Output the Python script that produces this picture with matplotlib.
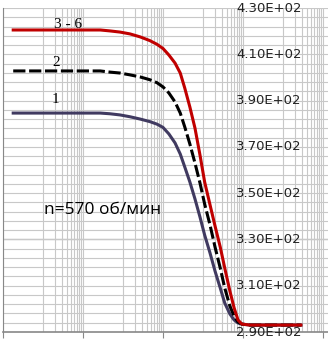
import numpy as np
import matplotlib
matplotlib.use("Agg")
import matplotlib.pyplot as plt
from matplotlib.ticker import FixedLocator, NullFormatter
import matplotlib.transforms as mtransforms

# data (x on a log axis)
x = [1.8, 30, 150, 270, 470, 840, 1500, 2700, 4700, 7100, 1e4, 1.4e4,
     2e4, 2.7e4, 3.5e4, 4.7e4, 6.3e4, 8.4e4, 1.1e5, 1.5e5, 2e5, 2.7e5,
     3.5e5, 4.7e5, 6e5, 7.5e5, 9.4e5, 1.5e6, 3e6, 2.8e7]
y_36 = [420.5, 420.5, 420.5, 420.5, 420.1, 419.6, 418.8, 417.5, 415.9,
        414.3, 412.5, 409.7, 406.2, 401.9, 395.4, 387.2, 378.1, 366.5,
        354.8, 344.9, 335.8, 326.7, 317.6, 307.7, 300.4, 295.2, 293.4,
        293.0, 293.0, 293.0]
y_2 = [402.8, 402.8, 402.8, 402.8, 402.3, 401.9, 401.1, 400.2, 399.0,
       397.7, 395.9, 393.3, 389.4, 384.6, 378.6, 371.2, 363.0, 354.4,
       345.3, 336.2, 326.7, 317.6, 309.0, 301.2, 296.9, 294.3, 293.4,
       293.0, 293.0, 293.0]
y_1 = [384.6, 384.6, 384.6, 384.6, 384.3, 383.8, 383.0, 382.0, 380.9,
       379.8, 378.4, 375.6, 371.7, 366.9, 361.3, 354.8, 347.5, 339.7,
       331.9, 324.1, 316.3, 309.0, 302.5, 297.8, 295.2, 293.9, 293.4,
       293.0, 293.0, 293.0]
y_ticks = [290, 310, 330, 350, 370, 390, 410, 430]
y_labels = ["2.90E+02", "3.10E+02", "3.30E+02", "3.50E+02",
            "3.70E+02", "3.90E+02", "4.10E+02", "4.30E+02"]

fig = plt.figure(figsize=(3.28, 3.39), dpi=100)
ax = fig.add_axes([3 / 328, 7 / 339, 325 / 328, 324 / 339])
ax.set_xscale("log")
ax.set_xlim(1, 10 ** 8.125)
ax.set_ylim(290, 430)

# gridlines like the Excel log (base 100) axis
major = [10.0 ** k for k in (0, 2, 4, 6, 8)]
minor = [j * 10.0 ** k for k in (1, 3, 5, 7) for j in range(1, 10)]
ax.xaxis.set_major_locator(FixedLocator(major))
ax.xaxis.set_minor_locator(FixedLocator(minor))
ax.xaxis.set_major_formatter(NullFormatter())
ax.xaxis.set_minor_formatter(NullFormatter())
ax.yaxis.set_major_locator(FixedLocator(np.arange(290, 431, 4)))
ax.yaxis.set_major_formatter(NullFormatter())
ax.tick_params(axis="y", length=0)
ax.tick_params(axis="x", which="major", length=4, color="#888888", direction="out")
ax.tick_params(axis="x", which="minor", length=0)
ax.grid(True, which="both", axis="x", color="#c8c8c8", lw=0.8)
ax.grid(True, which="major", axis="y", color="#c8c8c8", lw=0.8)
ax.axhline(330, color="#9a9a9a", lw=0.9, zorder=1)

for side in ("top", "right"):
    ax.spines[side].set_visible(False)
ax.spines["left"].set_color("#888888")
ax.spines["bottom"].set_color("#888888")
ax.spines["bottom"].set_linewidth(1.2)

ax.plot(x, y_1, color="#403a60", lw=2.2, zorder=3)
ax.plot(x, y_2, color="black", lw=2.2, ls=(0, (4, 1.2)), zorder=4)
ax.plot(x, y_36, color="#c00000", lw=2.2, zorder=5)

trans = mtransforms.blended_transform_factory(ax.transAxes, ax.transData)
for v, s in zip(y_ticks, y_labels):
    ax.text(266 / 325, v, s, transform=trans, ha="center", va="center",
            fontsize=9.5, family="DejaVu Sans", color="#222222", clip_on=False)

ax.text(42, 423.0, "3 - 6", family="Liberation Serif", fontsize=11, ha="center", va="center")
ax.text(21, 406.5, "2", family="Liberation Serif", fontsize=11, ha="center", va="center")
ax.text(20, 390.5, "1", family="Liberation Serif", fontsize=11, ha="center", va="center")
ax.text(310, 342.7, "n=570 об/мин", family="Open Sans", fontsize=12.5,
        ha="center", va="center")

fig.savefig("out.png", dpi=100)
